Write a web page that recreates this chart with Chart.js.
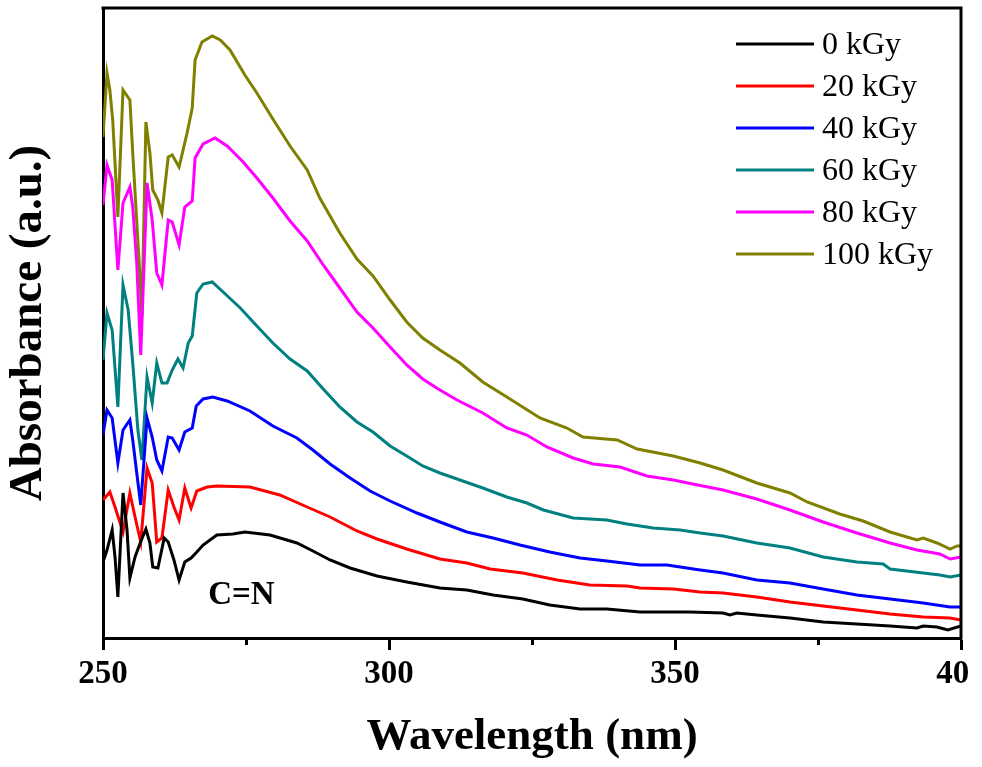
<!DOCTYPE html>
<html>
<head>
<meta charset="utf-8">
<script src="https://cdn.jsdelivr.net/npm/chart.js@4.4.1/dist/chart.umd.min.js"></script>
<style>
  html, body { margin: 0; padding: 0; background: #fff; }
  #wrap { width: 969px; height: 767px; position: relative; }
</style>
</head>
<body>
<div id="wrap"><canvas id="uvChart"></canvas></div>
<script>
// Absorbance spectra after irradiation (a.u.)
const doseLabels = ['0 kGy', '20 kGy', '40 kGy', '60 kGy', '80 kGy', '100 kGy'];

const wl0 = [250.0, 250.7, 251.6, 252.1, 252.6, 253.5, 254.2, 254.7, 255.6, 256.5, 257.5, 258.2, 258.7, 259.6, 260.7, 261.4, 262.4, 263.3, 264.3, 265.4, 266.4, 267.5, 269.9, 272.7, 274.8, 279.2, 283.9, 286.7, 289.7, 293.2, 297.9, 303.1, 308.9, 313.6, 318.2, 323.4, 328.1, 333.4, 338.1, 343.9, 352.6, 358.4, 359.6, 360.8, 364.3, 370.1, 375.9, 381.8, 387.6, 392.3, 393.4, 395.8, 397.7, 400.0];
const abs0 = [0.76, 0.88, 1.08, 0.81, 0.41, 1.45, 1.08, 0.60, 0.81, 0.95, 1.09, 0.95, 0.71, 0.70, 1.00, 0.96, 0.78, 0.58, 0.76, 0.80, 0.86, 0.93, 1.03, 1.04, 1.06, 1.03, 0.95, 0.87, 0.78, 0.70, 0.62, 0.56, 0.50, 0.48, 0.43, 0.39, 0.33, 0.29, 0.29, 0.26, 0.26, 0.25, 0.23, 0.25, 0.23, 0.20, 0.16, 0.14, 0.12, 0.10, 0.12, 0.11, 0.08, 0.12];

const wl20 = [250.0, 251.2, 252.1, 253.5, 254.7, 255.6, 256.6, 257.7, 258.6, 259.4, 260.3, 261.4, 262.4, 263.3, 264.3, 265.4, 266.4, 268.2, 269.9, 275.7, 280.9, 285.7, 289.7, 294.4, 297.9, 303.1, 308.9, 313.6, 317.7, 323.4, 329.4, 335.1, 341.6, 343.9, 349.7, 354.4, 358.4, 364.3, 370.1, 375.9, 381.8, 387.6, 393.4, 398.1, 400.0];
const abs20 = [1.38, 1.46, 1.31, 1.06, 1.45, 1.21, 0.96, 1.70, 1.55, 0.96, 1.00, 1.48, 1.31, 1.18, 1.50, 1.30, 1.47, 1.51, 1.52, 1.51, 1.43, 1.31, 1.21, 1.07, 0.99, 0.89, 0.79, 0.75, 0.69, 0.65, 0.58, 0.53, 0.52, 0.50, 0.49, 0.46, 0.45, 0.41, 0.36, 0.32, 0.28, 0.24, 0.21, 0.20, 0.18];

const wl40 = [250.0, 250.7, 251.6, 252.6, 253.5, 254.7, 255.2, 255.9, 256.6, 257.7, 258.6, 259.4, 260.3, 261.4, 262.1, 263.3, 264.3, 265.6, 266.3, 267.5, 269.2, 271.7, 275.7, 279.7, 283.9, 286.7, 289.7, 293.2, 296.7, 300.2, 304.9, 308.9, 313.6, 318.2, 322.9, 328.1, 333.4, 338.1, 343.9, 348.6, 354.4, 358.4, 364.3, 370.1, 375.9, 381.8, 387.6, 393.4, 398.1, 400.0];
const abs40 = [2.03, 2.28, 2.20, 1.75, 2.08, 2.18, 1.98, 1.65, 1.33, 2.20, 2.01, 1.78, 1.67, 2.01, 2.00, 1.88, 2.06, 2.10, 2.32, 2.39, 2.41, 2.37, 2.27, 2.12, 2.00, 1.88, 1.74, 1.60, 1.47, 1.37, 1.25, 1.16, 1.06, 1.00, 0.93, 0.86, 0.80, 0.77, 0.73, 0.73, 0.68, 0.65, 0.58, 0.55, 0.49, 0.43, 0.39, 0.35, 0.31, 0.31];

const wl60 = [250.0, 250.7, 251.6, 252.6, 253.5, 254.4, 255.2, 256.1, 256.8, 257.7, 258.6, 259.4, 260.3, 261.2, 262.1, 263.1, 264.0, 264.9, 265.6, 266.4, 267.5, 269.1, 271.0, 274.0, 276.9, 279.7, 282.7, 285.7, 288.5, 291.4, 294.4, 297.2, 300.2, 303.1, 305.9, 308.9, 312.4, 316.4, 320.6, 324.1, 327.0, 332.2, 338.1, 341.6, 346.2, 350.9, 354.4, 358.4, 364.3, 370.1, 375.9, 381.8, 386.4, 387.6, 393.4, 396.3, 398.1, 400.0];
const abs60 = [2.78, 3.25, 3.08, 2.31, 3.53, 3.28, 2.75, 2.08, 1.78, 2.61, 2.35, 2.75, 2.55, 2.55, 2.68, 2.79, 2.70, 2.95, 3.02, 3.45, 3.54, 3.56, 3.46, 3.30, 3.12, 2.95, 2.79, 2.67, 2.49, 2.31, 2.16, 2.06, 1.92, 1.82, 1.72, 1.65, 1.58, 1.50, 1.41, 1.35, 1.28, 1.20, 1.18, 1.14, 1.10, 1.08, 1.05, 1.02, 0.95, 0.90, 0.81, 0.76, 0.74, 0.69, 0.65, 0.63, 0.61, 0.63];

const wl80 = [250.0, 250.7, 251.6, 252.6, 253.5, 254.7, 255.2, 255.9, 256.6, 257.7, 258.6, 259.4, 260.3, 261.4, 262.1, 263.3, 264.3, 265.6, 266.1, 267.5, 269.6, 271.7, 274.5, 276.9, 279.7, 282.7, 285.7, 288.5, 291.4, 294.4, 297.2, 300.2, 303.1, 305.9, 308.9, 311.9, 316.4, 320.6, 324.1, 327.6, 332.2, 335.7, 340.4, 345.1, 349.7, 353.1, 358.4, 364.3, 370.1, 375.9, 381.8, 387.6, 392.3, 396.3, 398.1, 400.0];
const abs80 = [4.33, 4.73, 4.58, 3.68, 4.35, 4.51, 4.31, 3.75, 2.83, 4.55, 4.18, 3.65, 3.53, 4.18, 4.16, 3.93, 4.31, 4.37, 4.80, 4.94, 5.00, 4.92, 4.76, 4.60, 4.40, 4.17, 3.97, 3.73, 3.50, 3.26, 3.10, 2.91, 2.73, 2.59, 2.48, 2.38, 2.25, 2.10, 2.03, 1.91, 1.80, 1.74, 1.71, 1.62, 1.58, 1.54, 1.48, 1.39, 1.28, 1.16, 1.05, 0.95, 0.88, 0.84, 0.79, 0.81];

const wl100 = [250.0, 250.7, 251.2, 251.7, 252.6, 253.5, 254.7, 255.2, 256.5, 256.8, 257.5, 258.2, 258.7, 259.6, 260.3, 261.4, 262.1, 263.3, 264.7, 265.6, 266.1, 267.3, 269.1, 270.5, 272.2, 274.8, 276.9, 279.7, 282.7, 285.7, 287.9, 291.4, 294.4, 297.2, 300.2, 303.1, 305.9, 308.9, 312.4, 316.4, 320.6, 326.4, 331.1, 333.9, 339.9, 343.4, 349.7, 354.4, 358.4, 364.3, 370.1, 373.1, 378.8, 382.9, 387.6, 392.3, 393.4, 395.8, 398.1, 399.3, 400.0];
const abs100 = [5.01, 5.65, 5.48, 5.18, 4.21, 5.48, 5.38, 4.85, 3.58, 3.21, 5.16, 4.85, 4.48, 4.38, 4.25, 4.81, 4.83, 4.71, 5.05, 5.30, 5.78, 5.96, 6.02, 5.98, 5.88, 5.63, 5.45, 5.19, 4.92, 4.68, 4.40, 4.05, 3.79, 3.62, 3.38, 3.16, 3.00, 2.88, 2.75, 2.56, 2.41, 2.20, 2.10, 2.01, 1.98, 1.89, 1.82, 1.75, 1.68, 1.55, 1.45, 1.36, 1.24, 1.17, 1.06, 0.98, 1.00, 0.95, 0.89, 0.92, 0.92];

const xTicks = [250, 300, 350, 400];
const xMinorTicks = [275, 325, 375];
const peakLabel = { text: 'C=N', x: 274.2, y: 0.34 };

const wavelengths = [wl0, wl20, wl40, wl60, wl80, wl100];
const absorbances = [abs0, abs20, abs40, abs60, abs80, abs100];
const lineColors = ['#000000', '#ff0000', '#0000ff', '#008080', '#ff00ff', '#808000'];

const serif = "'Liberation Serif', 'Times New Roman', serif";

const datasets = doseLabels.map((label, i) => ({
  label: label,
  data: wavelengths[i].map((w, j) => ({ x: w, y: absorbances[i][j] })),
  borderColor: lineColors[i],
  backgroundColor: lineColors[i],
  borderWidth: 3,
  pointRadius: 0,
  tension: 0,
  fill: false
}));

// frame, minor ticks, legend and the C=N note
const extras = {
  id: 'extras',
  afterDraw(chart) {
    const ctx = chart.ctx;
    const area = chart.chartArea;
    const xs = chart.scales.x;
    const ys = chart.scales.y;
    ctx.save();
    ctx.strokeStyle = '#000';
    ctx.lineWidth = 3;
    ctx.beginPath();
    ctx.moveTo(area.left - 1.5, area.top);
    ctx.lineTo(area.right, area.top);
    ctx.lineTo(area.right, area.bottom + 1.5);
    ctx.stroke();

    xMinorTicks.forEach(v => {
      const px = Math.round(xs.getPixelForValue(v)) + 0.5;
      ctx.beginPath();
      ctx.moveTo(px, area.bottom);
      ctx.lineTo(px, area.bottom + 7);
      ctx.stroke();
    });

    ctx.font = 'bold 33px ' + serif;
    ctx.fillStyle = '#000';
    ctx.textAlign = 'center';
    ctx.textBaseline = 'alphabetic';
    ctx.fillText(peakLabel.text, xs.getPixelForValue(peakLabel.x), ys.getPixelForValue(peakLabel.y));

    ctx.font = '32px ' + serif;
    ctx.textAlign = 'left';
    ctx.textBaseline = 'middle';
    chart.data.datasets.forEach((ds, i) => {
      const y = 44 + i * 42;
      ctx.strokeStyle = ds.borderColor;
      ctx.beginPath();
      ctx.moveTo(736, y);
      ctx.lineTo(814, y);
      ctx.stroke();
      ctx.fillText(ds.label, 822, y + 2);
    });
    ctx.restore();
  }
};

const ctx = document.getElementById('uvChart').getContext('2d');
new Chart(ctx, {
  type: 'line',
  data: { datasets: datasets },
  plugins: [extras],
  options: {
    responsive: true,
    maintainAspectRatio: false,
    animation: false,
    layout: { padding: { top: 8, right: 8, left: 0, bottom: 0 } },
    plugins: {
      legend: { display: false },
      tooltip: { enabled: false }
    },
    scales: {
      x: {
        type: 'linear',
        min: 250,
        max: 400,
        afterBuildTicks: s => { s.ticks = xTicks.map(v => ({ value: v })); },
        afterFit: s => { s.height = 129; s.paddingLeft = 0; s.paddingRight = 0; },
        ticks: {
          color: '#000',
          padding: 5,
          maxRotation: 0,
          autoSkip: false,
          font: { family: serif, size: 33, weight: 'bold' }
        },
        grid: { drawOnChartArea: false, tickLength: 12, tickWidth: 3, tickColor: '#000' },
        border: { color: '#000', width: 3 },
        title: {
          display: true,
          text: 'Wavelength (nm)',
          color: '#000',
          padding: { top: 0, bottom: 3 },
          font: { family: serif, size: 45, weight: 'bold' }
        }
      },
      y: {
        min: 0,
        max: 6.3,
        afterFit: s => { s.width = 103; },
        ticks: { display: false },
        grid: { display: false },
        border: { color: '#000', width: 3 },
        title: {
          display: true,
          text: 'Absorbance (a.u.)',
          color: '#000',
          padding: { top: 1, bottom: 0 },
          font: { family: serif, size: 47, weight: 'bold' }
        }
      }
    }
  }
});
</script>
</body>
</html>
